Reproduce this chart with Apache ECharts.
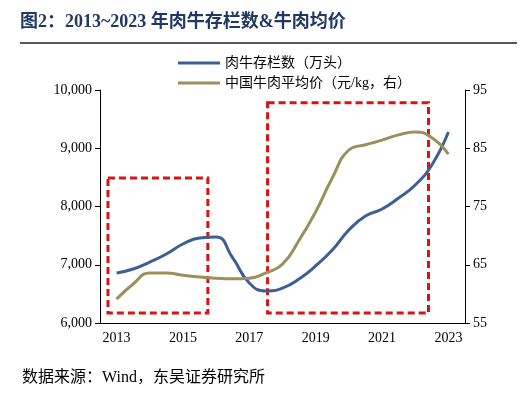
<!DOCTYPE html><html><head><meta charset="utf-8"><script src="https://cdn.jsdelivr.net/npm/echarts@6/dist/echarts.min.js"></script>
<style>body{margin:0}#c{width:526px;height:401px}</style></head><body><div id="c"></div><script>
const years=['2013','2014','2015','2016','2017','2018','2019','2020','2021','2022','2023'];
const xs=[2013,2013.5,2014,2014.5,2015,2015.5,2016,2016.5,2017,2017.5,2018,2018.5,2019,2019.5,2020,2020.5,2021,2021.5,2022,2022.5,2023];
const stock=[6858,6927,7047,7185,7356,7460,7476,7116,6687,6550,6600,6755,6980,7253,7597,7837,7957,8146,8370,8713,9280];
const price=[59.1,61.7,63.6,63.6,63.2,62.9,62.7,62.6,62.7,63.6,65.1,69.2,74.1,79.9,84.7,85.6,86.4,87.3,87.8,86.8,84.0];
const boxes=[[2012.74,8490,2015.75,6170],[2017.55,9780,2022.4,6170]];
const F='"Liberation Serif","Noto Sans CJK SC",serif';
const c=echarts.init(document.getElementById('c'));
c.setOption({animation:false,textStyle:{fontFamily:F},
graphic:[{type:'text',left:20,top:13,style:{text:'图2：2013~2023 年肉牛存栏数&牛肉均价',font:'bold 18px '+F,fill:'#1f3864'}},
{type:'line',shape:{x1:20,y1:43,x2:517,y2:43},style:{stroke:'#222',lineWidth:1.5}},
{type:'text',left:22,top:370,style:{text:'数据来源：Wind，东吴证券研究所',font:'16px '+F,fill:'#000'}}],
legend:{orient:'vertical',left:173,top:51,itemWidth:42,itemHeight:3,itemGap:6,icon:'rect',textStyle:{fontSize:14,fontFamily:F,color:'#000'},data:['肉牛存栏数（万头）','中国牛肉平均价（元/kg，右）']},
grid:{left:100,right:61,top:90,bottom:78},
xAxis:[{type:'category',data:years,boundaryGap:true,axisLine:{lineStyle:{color:'#000'}},axisTick:{lineStyle:{color:'#000'}},axisLabel:{interval:1,color:'#000',fontSize:14,fontFamily:F}},
{type:'value',min:2012.5,max:2023.5,show:false}],
yAxis:[{type:'value',min:6000,max:10000,interval:1000,splitLine:{show:false},axisLine:{show:true,lineStyle:{color:'#000'}},axisTick:{show:true,lineStyle:{color:'#000'}},axisLabel:{color:'#000',fontSize:14,fontFamily:F,formatter:v=>v.toLocaleString('en-US')}},
{type:'value',min:55,max:95,interval:10,splitLine:{show:false},axisLine:{show:true,lineStyle:{color:'#000'}},axisTick:{show:true,lineStyle:{color:'#000'}},axisLabel:{color:'#000',fontSize:14,fontFamily:F}}],
series:[{name:'肉牛存栏数（万头）',type:'line',xAxisIndex:1,yAxisIndex:0,smooth:0.5,showSymbol:false,data:xs.map((x,i)=>[x,stock[i]]),lineStyle:{color:'#3c5f94',width:3},itemStyle:{color:'#3c5f94'},
markArea:{silent:true,itemStyle:{color:'rgba(0,0,0,0)',borderColor:'#d11',borderWidth:3,borderType:[7,4]},data:boxes.map(b=>[{coord:[b[0],b[1]]},{coord:[b[2],b[3]]}])}},
{name:'中国牛肉平均价（元/kg，右）',type:'line',xAxisIndex:1,yAxisIndex:1,smooth:0.5,showSymbol:false,data:xs.map((x,i)=>[x,price[i]]),lineStyle:{color:'#9c8f5b',width:3},itemStyle:{color:'#9c8f5b'}}]});
</script></body></html>
